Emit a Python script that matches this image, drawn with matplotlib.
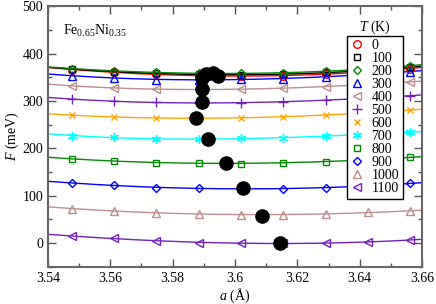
import numpy as np
import matplotlib
matplotlib.use("Agg")
import matplotlib.pyplot as plt
from matplotlib.ticker import MultipleLocator

plt.rcParams['font.family'] = ['Liberation Serif', 'DejaVu Serif']
plt.rcParams['mathtext.fontset'] = 'custom'
plt.rcParams['mathtext.rm'] = 'Liberation Serif'
plt.rcParams['mathtext.it'] = 'Liberation Serif:italic'

# lattice parameter sample points (Angstrom)
a_vals = [3.5476, 3.5612, 3.5748, 3.5884, 3.6020, 3.6155, 3.6291, 3.6427, 3.6562]

temps = [0, 100, 200, 300, 400, 500, 600, 700, 800, 900, 1000, 1100]

F_0 = [366, 361, 356, 353, 352, 353, 357, 362, 368]
F_100 = [367, 362, 358, 356, 355, 356, 360, 365, 371]
F_200 = [368, 364, 360, 358, 358, 359, 363, 368, 374]
F_300 = [353, 349, 345, 344, 346, 347, 351, 356, 362]
F_400 = [332, 327, 325, 324, 325, 327, 330, 335, 340]
F_500 = [304, 299, 297, 296, 296, 298, 302, 306, 311]
F_600 = [270, 266, 264, 263, 265, 267, 270, 275, 281]
F_700 = [227, 223, 220, 219, 221, 222, 226, 230, 234]
F_800 = [178, 173, 170, 169, 168, 170, 172, 176, 181]
F_900 = [127, 122, 117, 116, 115, 115, 117, 121, 126]
F_1000 = [73, 68, 64, 62, 60, 60, 62, 65, 68]
F_1100 = [15, 10, 5.5, 1, 0, 0, 0.5, 2, 7]

F_all = [F_0, F_100, F_200, F_300, F_400, F_500, F_600, F_700,
         F_800, F_900, F_1000, F_1100]

# equilibrium (minimum) points
a_min = [3.5946, 3.5928, 3.5907, 3.5893, 3.5893, 3.5895, 3.5874, 3.5914,
         3.5971, 3.6027, 3.6086, 3.6144]
F_min = [352, 358, 356, 348, 325, 298, 263, 219, 170, 116, 58, 0]

colors = ['#ff0000', '#000000', '#008b00', '#0000ff', '#bc8f8f', '#7221bc',
          '#ffa500', '#00ffff', '#008b00', '#0000ff', '#bc8f8f', '#7221bc']
markers = ['o', 's', 'D', '^', '<', '+', 'x', (6, 2, 0), 's', 'D', '^', '<']
msizes = [5.5, 5.0, 4.2, 5.5, 5.5, 6.5, 5.0, 6.5, 5.0, 4.2, 5.5, 5.5]

fig = plt.figure(figsize=(4.36, 3.04), dpi=100)
ax = fig.add_axes([0.110, 0.122, 0.858, 0.858])

xx = np.linspace(3.54, 3.66, 200)
handles = []
for T, F, c, m, ms in zip(temps, F_all, colors, markers, msizes):
    coef = np.polyfit(a_vals, F, 3)
    ax.plot(xx, np.polyval(coef, xx), '-', color=c, lw=1.0, zorder=2)
    h, = ax.plot(a_vals, F, linestyle='none', marker=m, ms=ms, mfc='none',
                 mec=c, mew=1.0, zorder=3, label=str(T))
    handles.append(h)

ax.plot(a_min, F_min, 'o', color='black', ms=9.5, zorder=5)

ax.set_xlim(3.54, 3.66)
ax.set_ylim(-50, 500)
ax.xaxis.set_minor_locator(MultipleLocator(0.01))
ax.yaxis.set_major_locator(MultipleLocator(100))
ax.yaxis.set_minor_locator(MultipleLocator(50))
ax.set_xticks([3.54, 3.56, 3.58, 3.60, 3.62, 3.64, 3.66])
ax.set_xticklabels(['3.54', '3.56', '3.58', '3.6', '3.62', '3.64', '3.66'])
ax.tick_params(which='both', direction='in', top=True, right=True,
               labelsize=10, width=1.0, color='#555555')
ax.tick_params(which='major', length=6)
ax.tick_params(which='minor', length=3)
for s in ax.spines.values():
    s.set_linewidth(1.5)
    s.set_color('#666666')

ax.set_xlabel(r'$\it{a}$ (Å)', fontsize=10, labelpad=1)
ax.set_ylabel(r'$\it{F}$ (meV)', fontsize=10, labelpad=1)

ax.text(0.04, 0.905, r'Fe$_{0.65}$Ni$_{0.35}$', transform=ax.transAxes,
        fontsize=10, ha='left', va='center')

leg = ax.legend(handles=handles, loc='upper left', bbox_to_anchor=(0.800, 0.886),
                fontsize=10, frameon=True, fancybox=False, framealpha=1,
                edgecolor='black', borderpad=0.25, labelspacing=0.0,
                handlelength=0.9, handletextpad=0.6, borderaxespad=0)
leg.get_frame().set_linewidth(1.0)
leg.set_zorder(10)
ax.text(0.875, 0.918, r'$\it{T}$ (K)', transform=ax.transAxes,
        fontsize=10, ha='center', va='center', zorder=11)

fig.savefig('out.png', dpi=100)
